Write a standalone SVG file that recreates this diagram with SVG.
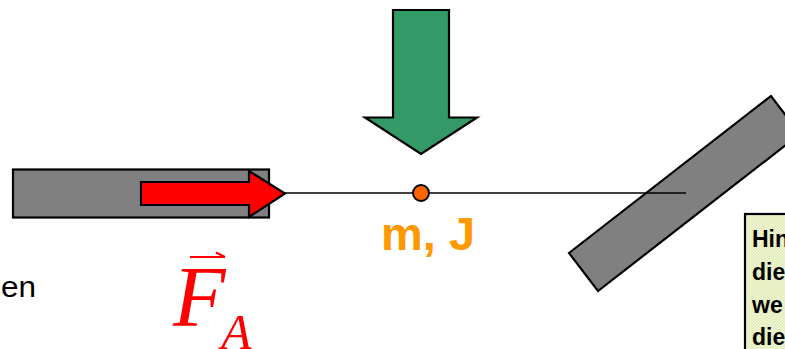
<svg xmlns="http://www.w3.org/2000/svg" width="785" height="349" viewBox="0 0 785 349">
<defs>
<pattern id="dots" width="3" height="3" patternUnits="userSpaceOnUse"><rect width="3" height="3" fill="#f4f8dc"/><rect width="1.5" height="1.5" fill="#dce8b0"/><rect x="1.5" y="1.5" width="1.5" height="1.5" fill="#dce8b0"/></pattern>
</defs>
<style>
.s{stroke:#000;stroke-width:2.2;stroke-linejoin:miter}
.g{fill:#808080}
.h{font-family:"Liberation Sans",Arial,sans-serif;font-weight:bold;font-size:23px;fill:#000}
.f{font-family:"Liberation Serif","Times New Roman",serif;font-style:italic;fill:#f00}
</style>
<g id="left-bar"><rect class="s g" x="13" y="169.500" width="256" height="48"/></g>
<g id="right-bar"><polygon class="s g" points="569,253 771,96 800,134 598,291"/></g>
<g id="connectors"><line x1="285" y1="193" x2="686" y2="193" stroke="#000" stroke-width="1.6"/></g>
<g id="red-arrow"><polygon class="s" fill="#f00" points="141,182 249,182 249,171 285,193.500 249,217 249,205 141,205"/></g>
<g id="green-arrow"><polygon class="s" fill="#339966" points="393,10 449,10 449,117.500 477,117.500 421,154 365,117.500 393,117.500"/></g>
<g id="mass"><circle cx="421" cy="193" r="8" fill="#ff6600" stroke="#000" stroke-width="2"/>
<text x="428" y="250" text-anchor="middle" font-family="Liberation Sans,Arial,sans-serif" font-weight="bold" font-size="47" fill="#ff9900">m, J</text></g>
<g id="force-label">
<text class="f" x="173" y="326" font-size="86">F</text>
<text class="f" x="221" y="349" font-size="50">A</text>
<path d="M190 257H225M216 252.500L225 257" fill="none" stroke="#f00" stroke-width="2.200"/>
</g>
<g id="side-text"><text x="1" y="297" font-family="Liberation Sans,Arial,sans-serif" font-size="29" fill="#000" textLength="35" lengthAdjust="spacingAndGlyphs">en</text></g>
<g id="note"><rect x="745" y="214" width="60" height="150" fill="url(#dots)" stroke="#000" stroke-width="2.200"/>
<text class="h" x="752" y="247">Hin</text>
<text class="h" x="752" y="280">die</text>
<text class="h" x="752" y="313">we</text>
<text class="h" x="752" y="345">die</text></g>
</svg>
